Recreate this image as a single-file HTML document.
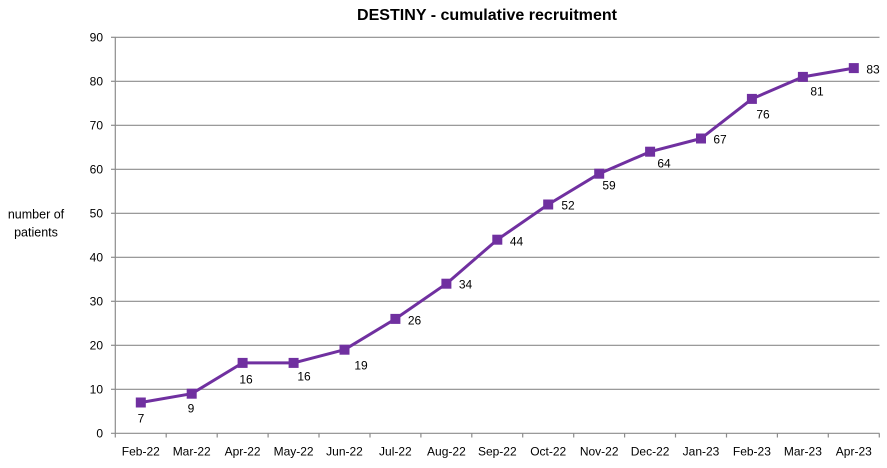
<!DOCTYPE html>
<html>
<head>
<meta charset="utf-8">
<style>
  html, body { margin:0; padding:0; background:#fff; }
  svg { display:block; }
  text { font-family: "Liberation Sans", sans-serif; fill:#000; }
</style>
</head>
<body>
<svg width="887" height="468" viewBox="0 0 887 468" xmlns="http://www.w3.org/2000/svg">
  <rect width="887" height="468" fill="#fff"/>
  <!-- title -->
  <text x="487" y="20" font-size="16" font-weight="bold" text-anchor="middle" textLength="260" lengthAdjust="spacingAndGlyphs">DESTINY - cumulative recruitment</text>

  <!-- gridlines -->
  <g stroke="#8c8c8c" stroke-width="1.2">
    <line x1="115" y1="37.3" x2="879.5" y2="37.3"/>
    <line x1="115" y1="81.3" x2="879.5" y2="81.3"/>
    <line x1="115" y1="125.3" x2="879.5" y2="125.3"/>
    <line x1="115" y1="169.3" x2="879.5" y2="169.3"/>
    <line x1="115" y1="213.3" x2="879.5" y2="213.3"/>
    <line x1="115" y1="257.3" x2="879.5" y2="257.3"/>
    <line x1="115" y1="301.3" x2="879.5" y2="301.3"/>
    <line x1="115" y1="345.3" x2="879.5" y2="345.3"/>
    <line x1="115" y1="389.3" x2="879.5" y2="389.3"/>
  </g>
  <!-- axes -->
  <g stroke="#8c8c8c" stroke-width="1.2">
    <line x1="115.3" y1="37" x2="115.3" y2="433.3"/>
    <line x1="111" y1="433.3" x2="879.5" y2="433.3"/>
    <!-- y ticks -->
    <line x1="111" y1="37.3" x2="115.3" y2="37.3"/>
    <line x1="111" y1="81.3" x2="115.3" y2="81.3"/>
    <line x1="111" y1="125.3" x2="115.3" y2="125.3"/>
    <line x1="111" y1="169.3" x2="115.3" y2="169.3"/>
    <line x1="111" y1="213.3" x2="115.3" y2="213.3"/>
    <line x1="111" y1="257.3" x2="115.3" y2="257.3"/>
    <line x1="111" y1="301.3" x2="115.3" y2="301.3"/>
    <line x1="111" y1="345.3" x2="115.3" y2="345.3"/>
    <line x1="111" y1="389.3" x2="115.3" y2="389.3"/>
    <!-- x ticks -->
    <line x1="115.3" y1="433.3" x2="115.3" y2="437.5"/>
    <line x1="166.2" y1="433.3" x2="166.2" y2="437.5"/>
    <line x1="217.2" y1="433.3" x2="217.2" y2="437.5"/>
    <line x1="268.1" y1="433.3" x2="268.1" y2="437.5"/>
    <line x1="319.0" y1="433.3" x2="319.0" y2="437.5"/>
    <line x1="370.0" y1="433.3" x2="370.0" y2="437.5"/>
    <line x1="420.9" y1="433.3" x2="420.9" y2="437.5"/>
    <line x1="471.8" y1="433.3" x2="471.8" y2="437.5"/>
    <line x1="522.7" y1="433.3" x2="522.7" y2="437.5"/>
    <line x1="573.7" y1="433.3" x2="573.7" y2="437.5"/>
    <line x1="624.6" y1="433.3" x2="624.6" y2="437.5"/>
    <line x1="675.5" y1="433.3" x2="675.5" y2="437.5"/>
    <line x1="726.5" y1="433.3" x2="726.5" y2="437.5"/>
    <line x1="777.4" y1="433.3" x2="777.4" y2="437.5"/>
    <line x1="828.3" y1="433.3" x2="828.3" y2="437.5"/>
    <line x1="879.3" y1="433.3" x2="879.3" y2="437.5"/>
  </g>

  <!-- y labels -->
  <g font-size="12" text-anchor="end">
    <text x="103" y="41.6">90</text>
    <text x="103" y="85.6">80</text>
    <text x="103" y="129.6">70</text>
    <text x="103" y="173.6">60</text>
    <text x="103" y="217.6">50</text>
    <text x="103" y="261.6">40</text>
    <text x="103" y="305.6">30</text>
    <text x="103" y="349.6">20</text>
    <text x="103" y="393.6">10</text>
    <text x="103" y="437.6">0</text>
  </g>

  <!-- y axis title -->
  <g font-size="12.5" text-anchor="middle">
    <text x="36" y="218.5">number of</text>
    <text x="36" y="236.5">patients</text>
  </g>

  <!-- x labels -->
  <g font-size="12" text-anchor="middle">
    <text x="140.8" y="455.5">Feb-22</text>
    <text x="191.7" y="455.5">Mar-22</text>
    <text x="242.6" y="455.5">Apr-22</text>
    <text x="293.6" y="455.5">May-22</text>
    <text x="344.5" y="455.5">Jun-22</text>
    <text x="395.4" y="455.5">Jul-22</text>
    <text x="446.4" y="455.5">Aug-22</text>
    <text x="497.3" y="455.5">Sep-22</text>
    <text x="548.2" y="455.5">Oct-22</text>
    <text x="599.2" y="455.5">Nov-22</text>
    <text x="650.1" y="455.5">Dec-22</text>
    <text x="701.0" y="455.5">Jan-23</text>
    <text x="751.9" y="455.5">Feb-23</text>
    <text x="802.9" y="455.5">Mar-23</text>
    <text x="853.8" y="455.5">Apr-23</text>
  </g>

  <!-- series line -->
  <polyline fill="none" stroke="#7030a0" stroke-width="3" stroke-linejoin="round"
    points="140.8,402.5 191.7,393.7 242.6,362.9 293.6,362.9 344.5,349.7 395.4,318.9 446.4,283.7 497.3,239.7 548.2,204.5 599.2,173.7 650.1,151.7 701.0,138.5 751.9,98.9 802.9,76.9 853.8,68.1"/>

  <!-- markers -->
  <g fill="#7030a0">
    <rect x="135.8" y="397.5" width="10" height="10"/>
    <rect x="186.7" y="388.7" width="10" height="10"/>
    <rect x="237.6" y="357.9" width="10" height="10"/>
    <rect x="288.6" y="357.9" width="10" height="10"/>
    <rect x="339.5" y="344.7" width="10" height="10"/>
    <rect x="390.4" y="313.9" width="10" height="10"/>
    <rect x="441.4" y="278.7" width="10" height="10"/>
    <rect x="492.3" y="234.7" width="10" height="10"/>
    <rect x="543.2" y="199.5" width="10" height="10"/>
    <rect x="594.2" y="168.7" width="10" height="10"/>
    <rect x="645.1" y="146.7" width="10" height="10"/>
    <rect x="696.0" y="133.5" width="10" height="10"/>
    <rect x="746.9" y="93.9" width="10" height="10"/>
    <rect x="797.9" y="71.9" width="10" height="10"/>
    <rect x="848.8" y="63.1" width="10" height="10"/>
  </g>

  <!-- data labels -->
  <g font-size="12" text-anchor="middle">
    <text x="141" y="422.3">7</text>
    <text x="191" y="412.3">9</text>
    <text x="246" y="383.3">16</text>
    <text x="304" y="380.3">16</text>
    <text x="361" y="369.3">19</text>
    <text x="414.5" y="324.3">26</text>
    <text x="465.5" y="288.3">34</text>
    <text x="516.5" y="245.3">44</text>
    <text x="568" y="209.3">52</text>
    <text x="609" y="189.3">59</text>
    <text x="664" y="167.3">64</text>
    <text x="720" y="143.3">67</text>
    <text x="763" y="118.3">76</text>
    <text x="817" y="95.3">81</text>
    <text x="873" y="73.3">83</text>
  </g>
</svg>
</body>
</html>
